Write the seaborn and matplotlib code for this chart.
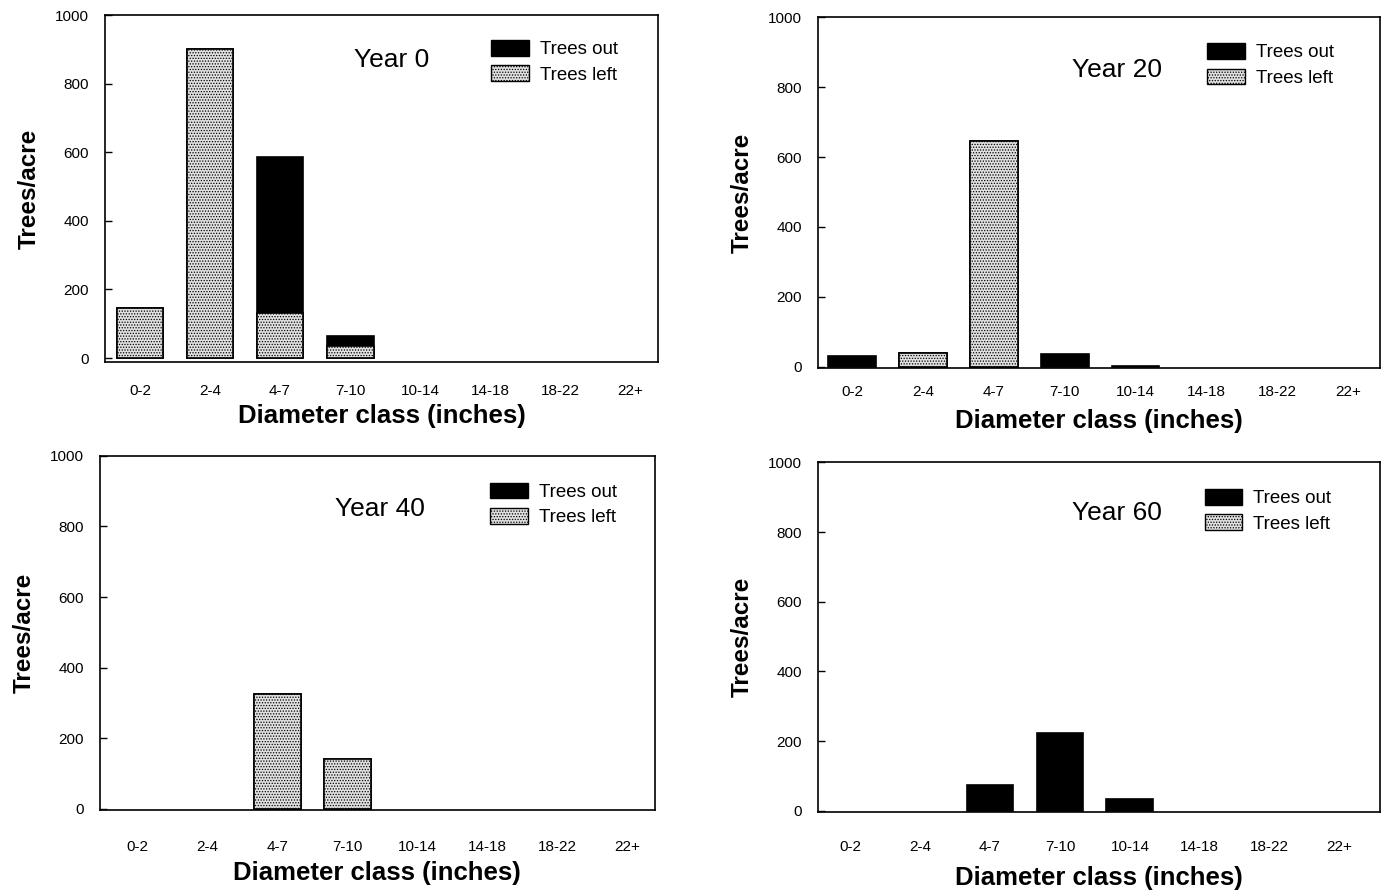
import matplotlib
matplotlib.use("Agg")
import matplotlib.pyplot as plt
import matplotlib.patches as mpatches
import seaborn as sns
import pandas as pd

categories = ["0-2", "2-4", "4-7", "7-10", "10-14", "14-18", "18-22", "22+"]
years = ["Year 0", "Year 20", "Year 40", "Year 60"]
out_y0 = [0, 0, 455, 30, 0, 0, 0, 0]
left_y0 = [145, 900, 130, 35, 0, 0, 0, 0]
out_y20 = [30, 0, 0, 35, 3, 0, 0, 0]
left_y20 = [0, 40, 645, 0, 0, 0, 0, 0]
out_y40 = [0, 0, 0, 0, 0, 0, 0, 0]
left_y40 = [0, 0, 325, 140, 0, 0, 0, 0]
out_y60 = [0, 0, 75, 225, 35, 0, 0, 0]
left_y60 = [0, 0, 0, 0, 0, 0, 0, 0]
yticks = [0, 200, 400, 600, 800, 1000]

sns.set_theme(style="white")
plt.rcParams['font.family'] = ['Liberation Sans', 'DejaVu Sans']
plt.rcParams['hatch.linewidth'] = 0.6
plt.rcParams['text.color'] = 'black'
plt.rcParams['axes.labelcolor'] = 'black'
plt.rcParams['xtick.color'] = 'black'
plt.rcParams['ytick.color'] = 'black'

fig = plt.figure(figsize=(13.83, 8.92), dpi=100)

rects = [
    [0.0759, 0.594, 0.400, 0.389],
    [0.5915, 0.587, 0.406, 0.3935],
    [0.0723, 0.092, 0.401, 0.397],
    [0.5915, 0.0897, 0.406, 0.392],
]
xlims = [(-0.5, 7.4), (-0.48, 7.44), (-0.54, 7.39), (-0.46, 7.57)]
ylims = [(-12, 1000), (-5, 1000), (-3, 1000), (-3, 1000)]
xpads = [16, 12, 22, 20]
xlabpads = [4, 7, 5, 9]
year_pos = [(0.519, 0.87), (0.532, 0.85), (0.505, 0.85), (0.532, 0.854)]
leg_pos = [(0.685, 0.95), (0.68, 0.948), (0.69, 0.945), (0.675, 0.945)]
outs = [out_y0, out_y20, out_y40, out_y60]
lefts = [left_y0, left_y20, left_y40, left_y60]

HATCH_FC = "#e0e0e0"

for i in range(4):
    ax = fig.add_axes(rects[i])
    df = pd.DataFrame({
        "cls": categories,
        "total": [o + l for o, l in zip(outs[i], lefts[i])],
        "left": lefts[i],
    })
    sns.barplot(data=df, x="cls", y="total", color="black", width=0.67,
                edgecolor="black", linewidth=1.2, saturation=1, ax=ax)
    n0 = len(ax.patches)
    sns.barplot(data=df, x="cls", y="left", color=HATCH_FC, width=0.67,
                edgecolor="black", linewidth=1.2, saturation=1, ax=ax)
    for p in ax.patches[n0:]:
        p.set_hatch("......")
        p.set_facecolor(HATCH_FC)
    for p in ax.patches:
        if p.get_height() == 0:
            p.set_visible(False)
    ax.set_xlim(*xlims[i])
    ax.set_ylim(*ylims[i])
    ax.set_yticks(yticks)
    ax.set_xlabel("Diameter class (inches)", fontsize=18.5, fontweight="bold",
                  labelpad=xlabpads[i], color="black")
    ax.set_ylabel("Trees/acre", fontsize=17.5, fontweight="bold", labelpad=10,
                  color="black")
    ax.tick_params(axis="x", length=0, pad=xpads[i], labelsize=11,
                   labelcolor="black")
    ax.tick_params(axis="y", length=5, direction="in", width=1, labelsize=11,
                   left=True, pad=11.5, labelcolor="black", color="black")
    for s in ax.spines.values():
        s.set_color("black")
        s.set_linewidth(1.2)
    ax.text(year_pos[i][0], year_pos[i][1], years[i], transform=ax.transAxes,
            fontsize=19, ha="center", va="center", color="black")
    handles = [
        mpatches.Patch(facecolor="black", edgecolor="black", label="Trees out"),
        mpatches.Patch(facecolor=HATCH_FC, edgecolor="black", hatch="......",
                       label="Trees left"),
    ]
    leg = ax.legend(handles=handles, loc="upper left", bbox_to_anchor=leg_pos[i],
                    frameon=False, fontsize=13.5, handlelength=2.0, handleheight=0.9,
                    labelspacing=0.38, handletextpad=0.6, borderaxespad=0)
    for t in leg.get_texts():
        t.set_color("black")

fig.savefig("out.png", dpi=100)
